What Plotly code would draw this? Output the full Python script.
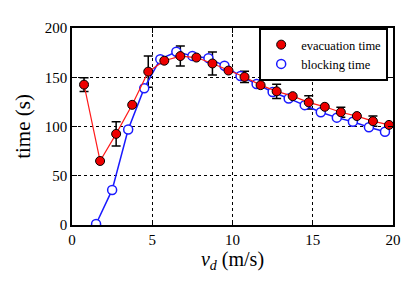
import plotly.graph_objects as go

# Evacuation time (red, filled)
evac_x = [0.75, 1.75, 2.75, 3.75, 4.75, 5.75, 6.75, 7.75, 8.75, 9.75,
          10.75, 11.75, 12.75, 13.75, 14.75, 15.75, 16.75, 17.75, 18.75, 19.75]
evac_y = [142.5, 65, 92.5, 122, 155.7, 166.8, 171.5, 170, 164, 156.8,
          150.3, 142, 135.7, 130.8, 124.5, 120, 114.5, 110.6, 105.4, 101.6]
# error bars on every other evacuation point
err_idx = [0, 2, 4, 6, 8, 10, 12, 14, 16, 18]
err_val = [7, 12.4, 15.8, 10.2, 11.7, 5.7, 7.3, 6.8, 5, 5.2]

# Blocking time (blue, open)
block_x = [1.5, 2.5, 3.5, 4.5, 5.5, 6.5, 7.5, 8.5, 9.5, 10.5,
           11.5, 12.5, 13.5, 14.5, 15.5, 16.5, 17.5, 18.5, 19.5]
block_y = [1, 35.6, 97, 138.9, 168.4, 175.9, 171.7, 169.4, 161.6, 151.2,
           143.1, 135, 128.5, 121.7, 114.5, 109, 104.8, 99.3, 94.7]

x_ticks = [0, 5, 10, 15, 20]
y_ticks = [0, 50, 100, 150, 200]

FONT = "Liberation Serif, Times New Roman, serif"
RED = "#ee0000"
BLUE = "#1a1aff"

fig = go.Figure()

fig.add_trace(go.Scatter(
    x=[evac_x[i] for i in err_idx], y=[evac_y[i] for i in err_idx],
    mode="markers", marker=dict(size=1, opacity=0), showlegend=False,
    hoverinfo="skip",
    error_y=dict(type="data", array=err_val, visible=True,
                 color="black", thickness=1.5, width=4.5),
))

fig.add_trace(go.Scatter(
    x=block_x, y=block_y, mode="lines+markers", name="blocking time",
    line=dict(color=BLUE, width=1.5), showlegend=False,
    marker=dict(size=9, color="white", line=dict(color=BLUE, width=1.5)),
))

fig.add_trace(go.Scatter(
    x=evac_x, y=evac_y, mode="lines+markers", name="evacuation time",
    line=dict(color="#ff1a1a", width=1.2), showlegend=False,
    marker=dict(size=9, color=RED, line=dict(color="black", width=1)),
))

# legend entries (markers only)
fig.add_trace(go.Scatter(
    x=[None], y=[None], mode="markers", name="evacuation time",
    marker=dict(size=9, color=RED, line=dict(color="black", width=1)),
))
fig.add_trace(go.Scatter(
    x=[None], y=[None], mode="markers", name="blocking time",
    marker=dict(size=9, color="white", line=dict(color=BLUE, width=1.5)),
))

axis_common = dict(
    showline=True, linecolor="black", linewidth=1.5, mirror="ticks",
    ticks="inside", ticklen=5, tickwidth=1.2, tickcolor="black",
    showgrid=True, gridcolor="black", gridwidth=1, griddash="dot",
    zeroline=False, tickfont=dict(family=FONT, size=15, color="black"),
)

fig.update_layout(
    width=408, height=280,
    margin=dict(l=64, r=23, t=12, b=63),
    paper_bgcolor="white", plot_bgcolor="white",
    font=dict(family=FONT, color="black"),
    xaxis=dict(range=[0, 20], tickvals=x_ticks, **axis_common,
               title=dict(text="<i>v</i><sub><i>d</i></sub> (m/s)",
                          font=dict(family=FONT, size=20), standoff=4)),
    yaxis=dict(range=[0, 200], tickvals=y_ticks, **axis_common,
               title=dict(text="time (s)",
                          font=dict(family=FONT, size=21), standoff=8)),
    legend=dict(x=0.985, y=1.0, xanchor="right", yanchor="top",
                bgcolor="white", bordercolor="black", borderwidth=2,
                font=dict(family=FONT, size=12.5), tracegroupgap=0,
                itemwidth=30, traceorder="normal"),
    showlegend=True,
)

fig.write_html("out.html")
